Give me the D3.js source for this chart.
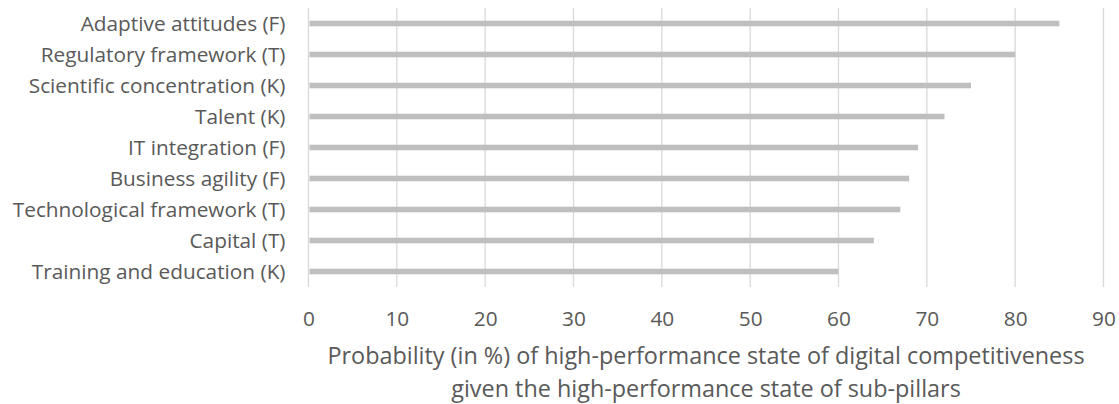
<!DOCTYPE html>
<html><head><meta charset="utf-8">
<script src="https://cdn.jsdelivr.net/npm/d3@7"></script>
<style>html,body{margin:0;padding:0;background:#fff;}</style>
</head><body>
<script>
const categories = ["Adaptive attitudes (F)","Regulatory framework (T)","Scientific concentration (K)","Talent (K)","IT integration (F)","Business agility (F)","Technological framework (T)","Capital (T)","Training and education (K)"];
const values = [85,80,75,72,69,68,67,64,60];
const xTicks = [0,10,20,30,40,50,60,70,80,90];
const titleLines = ["Probability (in %) of high-performance state of digital competitiveness","given the high-performance state of sub-pillars"];

(function(){
const W=1119,H=404;
const font="'Open Sans', sans-serif";
const svg=d3.select("body").append("svg").attr("width",W).attr("height",H);
const pL=308.5,pR=1103.5,pT=8,pB=287;
const x=d3.scaleLinear().domain([0,90]).range([pL,pR]);
const y=d3.scaleBand().domain(categories).range([pT,pB]).paddingInner(0.82).paddingOuter(0.41);

svg.append("g").selectAll("line").data(xTicks).join("line")
  .attr("x1",d=>x(d)).attr("x2",d=>x(d)).attr("y1",pT).attr("y2",pB)
  .attr("stroke","#d9d9d9").attr("stroke-width",1.3);

svg.append("g").selectAll("rect").data(values).join("rect")
  .attr("x",x(0)+1).attr("y",(d,i)=>y(categories[i]))
  .attr("width",d=>x(d)-x(0)-1).attr("height",y.bandwidth())
  .attr("fill","#bfbfbf");

const yAxis=svg.append("g").attr("transform",`translate(${pL-23},0)`)
  .call(d3.axisLeft(y).tickSize(0).tickPadding(0));
yAxis.select(".domain").remove();
yAxis.selectAll("text").attr("font-family",font).attr("font-size",20.8).attr("fill","#595959").attr("dy","0.35em");

const xAxis=svg.append("g").attr("transform",`translate(0,${pB})`)
  .call(d3.axisBottom(x).tickValues(xTicks).tickSize(0).tickPadding(0));
xAxis.select(".domain").remove();
xAxis.selectAll("text").attr("font-family",font).attr("font-size",20.8).attr("fill","#595959").attr("dy",null).attr("y",38.5);

svg.append("g").selectAll("text").data(titleLines).join("text")
  .attr("x",(pL+pR)/2).attr("y",(d,i)=>364+i*33)
  .attr("text-anchor","middle").attr("font-family",font).attr("font-size",23.4)
  .attr("fill","#595959").text(d=>d);
})();
</script>
</body></html>
